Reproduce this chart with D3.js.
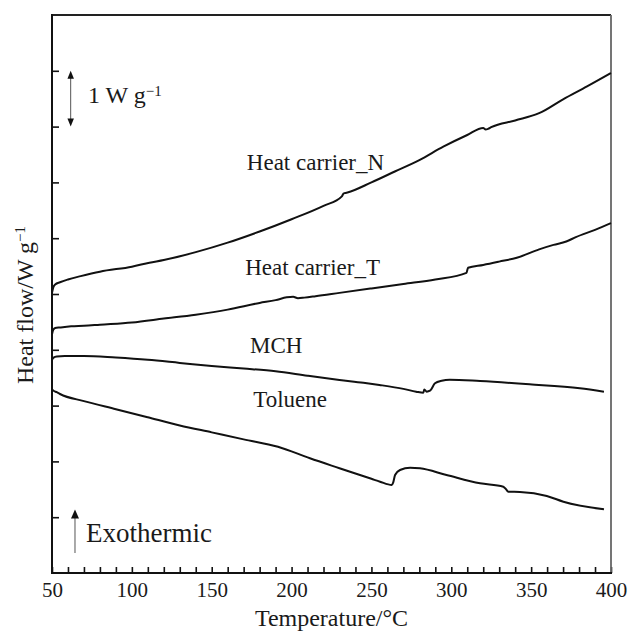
<!DOCTYPE html>
<html>
<head>
<meta charset="utf-8">
<script src="https://cdn.jsdelivr.net/npm/d3@7"></script>
<style>
  html, body { margin: 0; padding: 0; background: #fff; }
  svg { display: block; font-family: "Liberation Serif", "Times New Roman", Times, serif; }
</style>
</head>
<body>
<svg id="chart" width="628" height="632"></svg>
<script>
// DSC heat-flow traces, [temperature °C, heat flow W/g (offset scale)]
const temperatureTicks = [50, 100, 150, 200, 250, 300, 350, 400];
const heatFlowTicks = [1, 2, 3, 4, 5, 6, 7, 8, 9];
const seriesNames = ["Heat carrier_N", "Heat carrier_T", "MCH", "Toluene"];

const heatCarrierN = [
  [50, 5.02], [50.8, 5.12], [52, 5.17], [55, 5.21], [60, 5.26], [68, 5.32], [80, 5.40],
  [100, 5.49], [111, 5.56], [120, 5.61], [140, 5.75], [160, 5.92], [180, 6.12], [200, 6.34],
  [220, 6.58], [231.5, 6.75], [232.5, 6.80], [233.5, 6.81], [235, 6.82], [250, 7.00],
  [265, 7.20], [280, 7.40], [295, 7.64], [310, 7.85], [320, 7.975], [321.5, 7.95],
  [323, 7.96], [325, 7.99], [340, 8.11], [355, 8.24], [370, 8.49], [385, 8.72], [400, 8.96]
];

const heatCarrierT = [
  [50, 4.28], [50.8, 4.36], [52, 4.39], [55, 4.40], [62, 4.42], [70, 4.43], [80, 4.45],
  [100, 4.49], [120, 4.56], [140, 4.63], [160, 4.72], [180, 4.84], [190, 4.89],
  [197, 4.94], [201, 4.95], [204, 4.925], [208, 4.935], [215, 4.96], [230, 5.02],
  [250, 5.10], [270, 5.18], [290, 5.26], [309.5, 5.38], [310.5, 5.47], [320, 5.52],
  [330, 5.58], [341, 5.65], [355, 5.80], [364, 5.88], [372, 5.94], [378, 6.02],
  [390, 6.15], [400, 6.27]
];

const mch = [
  [50, 3.82], [51, 3.86], [53, 3.88], [58, 3.89], [70, 3.89], [90, 3.86], [110, 3.82],
  [130, 3.765], [150, 3.71], [170, 3.665], [190, 3.615], [210, 3.535], [230, 3.46],
  [245, 3.41], [255, 3.37], [270, 3.30], [278, 3.25], [282.5, 3.23], [283.1, 3.29],
  [284.6, 3.25], [286.7, 3.267], [289.8, 3.40], [294, 3.446], [299, 3.464],
  [318, 3.44], [349, 3.382], [380.5, 3.31], [395.6, 3.249]
];

const toluene = [
  [50, 3.29], [51, 3.265], [53, 3.24], [55, 3.208], [70, 3.08], [90, 2.935],
  [110, 2.79], [130, 2.645], [150, 2.52], [170, 2.395], [191.5, 2.263],
  [211.5, 2.056], [230, 1.878], [250, 1.688], [255.4, 1.636], [262.7, 1.577],
  [263.6, 1.62], [264.8, 1.756], [267.9, 1.846], [274.2, 1.887], [280.4, 1.876],
  [297, 1.756], [318, 1.608], [332.6, 1.547], [334.3, 1.50], [335.7, 1.457],
  [343, 1.452], [359.8, 1.38], [370.2, 1.278], [395.6, 1.142]
];

const seriesData = [heatCarrierN, heatCarrierT, mch, toluene];

const svg = d3.select("#chart");
const frame = { left: 52, right: 611, top: 15, bottom: 573 };

const x = d3.scaleLinear().domain([50, 400]).range([frame.left, frame.right]);
const y = d3.scaleLinear().domain([0, 10]).range([frame.bottom, frame.top]);

// Bottom axis: minor ticks every 10 °C, labels every 50 °C, ticks pointing inward
const xAxis = d3.axisBottom(x)
  .tickValues(d3.range(50, 401, 10))
  .tickSizeInner(-6)
  .tickSizeOuter(0)
  .tickPadding(9)
  .tickFormat(d => temperatureTicks.includes(d) ? d : "");

const gx = svg.append("g")
  .attr("transform", `translate(0,${frame.bottom})`)
  .call(xAxis);
gx.select(".domain").remove();
gx.selectAll(".tick line").attr("stroke", "#111").attr("stroke-width", 1.6);
gx.selectAll(".tick text")
  .attr("fill", "#1a1a1a")
  .style("font-size", "21px")
  .style("font-family", "'Liberation Serif', 'Times New Roman', serif");

// Left axis: unlabeled inward ticks
const yAxis = d3.axisLeft(y)
  .tickValues(heatFlowTicks)
  .tickSizeInner(-7)
  .tickSizeOuter(0)
  .tickFormat("");
const gy = svg.append("g")
  .attr("transform", `translate(${frame.left},0)`)
  .call(yAxis);
gy.select(".domain").remove();
gy.selectAll(".tick line").attr("stroke", "#111").attr("stroke-width", 1.6);

// Plot frame
const frameLines = svg.append("g").attr("fill", "none");
frameLines.append("line")
  .attr("x1", frame.left).attr("x2", frame.right)
  .attr("y1", frame.top).attr("y2", frame.top)
  .attr("stroke", "#222").attr("stroke-width", 1.8);
frameLines.append("line")
  .attr("x1", frame.right).attr("x2", frame.right)
  .attr("y1", frame.top).attr("y2", frame.bottom)
  .attr("stroke", "#666").attr("stroke-width", 1.8);
frameLines.append("line")
  .attr("x1", frame.left).attr("x2", frame.right + 1)
  .attr("y1", frame.bottom).attr("y2", frame.bottom)
  .attr("stroke", "#111").attr("stroke-width", 2);
frameLines.append("line")
  .attr("x1", frame.left).attr("x2", frame.left)
  .attr("y1", frame.top - 1).attr("y2", frame.bottom + 1)
  .attr("stroke", "#111").attr("stroke-width", 2);

// Traces
const line = d3.line()
  .x(d => x(d[0]))
  .y(d => y(d[1]))
  .curve(d3.curveMonotoneX);

svg.append("g")
  .selectAll("path")
  .data(seriesData)
  .join("path")
  .attr("d", line)
  .attr("fill", "none")
  .attr("stroke", "#111")
  .attr("stroke-width", 2)
  .attr("stroke-linejoin", "round");

// Trace labels
const labelAnchors = [[172, 7.22], [171, 5.34], [174, 3.95], [176, 2.98]];
svg.append("g")
  .selectAll("text")
  .data(seriesNames)
  .join("text")
  .attr("x", (d, i) => x(labelAnchors[i][0]))
  .attr("y", (d, i) => y(labelAnchors[i][1]))
  .attr("fill", "#1a1a1a")
  .style("font-size", "23px")
  .text(d => d);

// Arrowhead helper
function arrowHead(g, tipX, tipY, dir, w, h) {
  g.append("path")
    .attr("d", `M${tipX},${tipY} L${tipX - w / 2},${tipY - dir * h} L${tipX + w / 2},${tipY - dir * h} Z`)
    .attr("fill", "#111");
}

// Scale bar: 1 W g^-1
const scaleBar = svg.append("g");
const sbX = x(61.7);
scaleBar.append("line")
  .attr("x1", sbX).attr("x2", sbX)
  .attr("y1", y(9) + 6).attr("y2", y(8) - 6)
  .attr("stroke", "#555").attr("stroke-width", 1);
arrowHead(scaleBar, sbX, y(9), -1, 6.5, 8);
arrowHead(scaleBar, sbX, y(8), 1, 6.5, 8);
const sbText = scaleBar.append("text")
  .attr("x", 88).attr("y", 102.5)
  .attr("fill", "#1a1a1a")
  .style("font-size", "24px");
sbText.append("tspan").text("1 W g");
sbText.append("tspan")
  .attr("dy", -7)
  .style("font-size", "15px")
  .text("\u22121");

// Exothermic direction marker
const exo = svg.append("g");
const exoX = x(64.4);
exo.append("line")
  .attr("x1", exoX).attr("x2", exoX)
  .attr("y1", 553).attr("y2", 516)
  .attr("stroke", "#555").attr("stroke-width", 1);
arrowHead(exo, exoX, 509.5, -1, 8, 9);
exo.append("text")
  .attr("x", 86).attr("y", 542)
  .attr("fill", "#1a1a1a")
  .style("font-size", "27px")
  .text("Exothermic");

// Axis titles
svg.append("text")
  .attr("x", (frame.left + frame.right) / 2)
  .attr("y", 626)
  .attr("text-anchor", "middle")
  .attr("fill", "#1a1a1a")
  .style("font-size", "24px")
  .text("Temperature/\u00B0C");

const yTitle = svg.append("text")
  .attr("transform", "translate(33,305) rotate(-90)")
  .attr("text-anchor", "middle")
  .attr("fill", "#1a1a1a")
  .style("font-size", "24px");
yTitle.append("tspan").text("Heat flow/W g");
yTitle.append("tspan")
  .attr("dy", -8)
  .style("font-size", "15px")
  .text("\u22121");
</script>
</body>
</html>
